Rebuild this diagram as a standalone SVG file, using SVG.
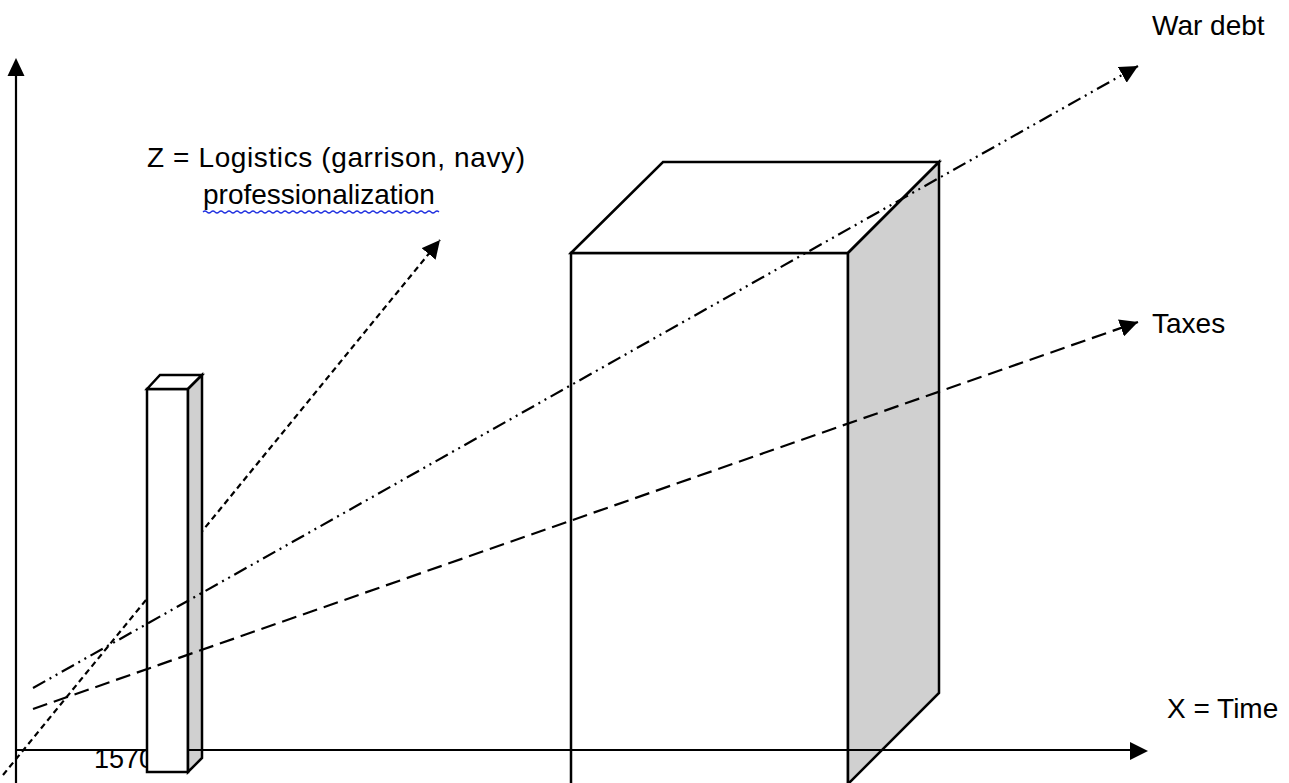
<svg xmlns="http://www.w3.org/2000/svg" width="1289" height="783" viewBox="0 0 1289 783">
<style>
text{font-family:"Liberation Sans",Arial,sans-serif;font-size:28px;fill:#000}
.ax{stroke:#000;stroke-width:2.2;fill:none}
.box{stroke:#000;stroke-width:2.5;stroke-linejoin:miter}
.ln{stroke:#000;stroke-width:2.2;fill:none}
</style>
<defs>
<marker id="ah2" viewBox="0 0 18 18" refX="18" refY="9" markerWidth="18" markerHeight="18" orient="auto" markerUnits="userSpaceOnUse">
<path d="M0,0 L18,9 L0,18 Z" fill="#000"/>
</marker>
</defs>
<rect width="1289" height="783" fill="#fff"/>
<g id="y-axis">
<line class="ax" x1="16" y1="783" x2="16" y2="76"/>
<path d="M16,58 L7.5,76 L24.5,76 Z" fill="#000"/>
</g>
<g id="label-1570"><text x="94" y="768" style="font-size:27px">1570</text></g>
<g id="connector-z"><line class="ln" x1="3" y1="775" x2="440" y2="240" stroke-dasharray="6 4" marker-end="url(#ah2)"/></g>
<g id="small-box">
<rect class="box" x="147" y="389" width="41" height="383" fill="#fff"/>
<polygon class="box" points="147,389 160,375 202,375 188,389" fill="#fff"/>
<polygon class="box" points="188,389 202,375 202,758 188,772" fill="#d0d0d0"/>
</g>
<g id="large-box">
<rect class="box" x="571" y="253" width="277" height="540" fill="#fff"/>
<polygon class="box" points="571,253 663,162 939,162 848,253" fill="#fff"/>
<polygon class="box" points="848,253 939,162 939,693 848,784" fill="#d0d0d0"/>
</g>
<g id="x-axis">
<line class="ax" x1="16" y1="750" x2="147" y2="750"/>
<line class="ax" x1="188" y1="750" x2="1131" y2="750"/>
<path d="M1148,751 L1130,742 L1130,760 Z" fill="#000"/>
</g>
<g id="connectors">
<line class="ln" x1="33" y1="688" x2="1138" y2="66" stroke-dasharray="14 5 2 5 2 5" marker-end="url(#ah2)"/>
<line class="ln" x1="33" y1="709" x2="1138" y2="322" stroke-dasharray="15 7" marker-end="url(#ah2)"/>
</g>
<g id="labels">
<text x="1152" y="35">War debt</text>
<text x="1152" y="333">Taxes</text>
<text x="1167" y="718">X = Time</text>
<text x="147" y="167" textLength="378" lengthAdjust="spacing">Z = Logistics (garrison, navy)</text>
<text x="203" y="204">professionalization</text>
<path d="M203,212 q2,-2 4,0 t4,0 t4,0 t4,0 t4,0 t4,0 t4,0 t4,0 t4,0 t4,0 t4,0 t4,0 t4,0 t4,0 t4,0 t4,0 t4,0 t4,0 t4,0 t4,0 t4,0 t4,0 t4,0 t4,0 t4,0 t4,0 t4,0 t4,0 t4,0 t4,0 t4,0 t4,0 t4,0 t4,0 t4,0 t4,0 t4,0 t4,0 t4,0 t4,0 t4,0 t4,0 t4,0 t4,0 t4,0 t4,0 t4,0 t4,0 t4,0 t4,0 t4,0 t4,0 t4,0 t4,0 t4,0 t4,0 t4,0 t4,0 t4,0" fill="none" stroke="#2030e0" stroke-width="1.2"/>
</g>
</svg>
